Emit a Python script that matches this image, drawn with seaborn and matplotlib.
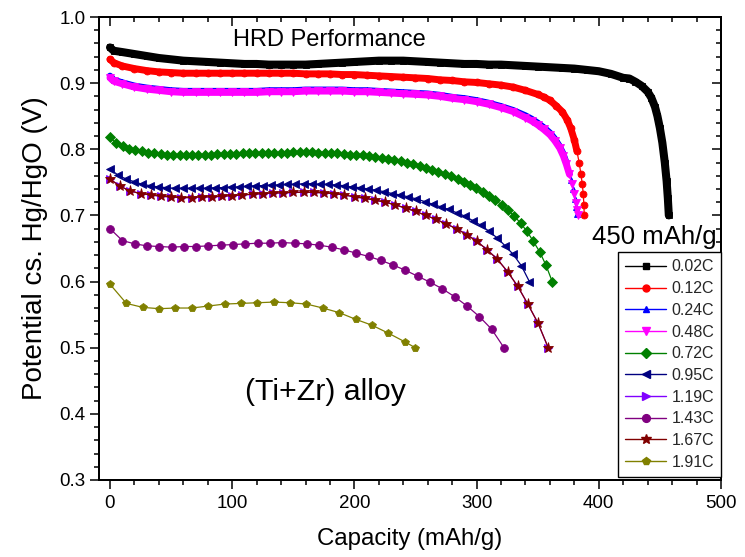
import matplotlib
matplotlib.use("Agg")
import matplotlib.pyplot as plt
import seaborn as sns
import pandas as pd
from matplotlib.lines import Line2D
from matplotlib.ticker import MultipleLocator, FormatStrFormatter

sns.set_theme(style="ticks")
plt.rcParams['font.family'] = ['Liberation Sans', 'DejaVu Sans']
plt.rcParams.update({
    "axes.linewidth": 1.4, "axes.edgecolor": "black",
    "xtick.color": "black", "ytick.color": "black",
    "xtick.labelcolor": "black", "ytick.labelcolor": "black",
    "xtick.major.pad": 4, "ytick.major.pad": 3,
    "xtick.major.size": 6.5, "ytick.major.size": 6.5,
    "xtick.minor.size": 3.5, "ytick.minor.size": 3.5,
    "xtick.major.width": 1.1, "ytick.major.width": 1.1,
    "xtick.minor.width": 1.1, "ytick.minor.width": 1.1,
})

# ---------------- data ----------------
rates = ["0.02C", "0.12C", "0.24C", "0.48C", "0.72C", "0.95C", "1.19C", "1.43C", "1.67C", "1.91C"]

cap_002 = [0, 3, 10, 20, 30, 40, 50, 60, 70, 80, 90, 100, 110, 120, 130, 140, 150, 160, 170, 180,
           190, 200, 210, 220, 230, 240, 250, 260, 270, 280, 290, 300, 310, 320, 330, 340, 350, 360,
           370, 380, 390, 400, 410, 420, 425, 430, 435, 440, 443, 446, 448, 450, 452, 454, 455.5,
           456.5, 457.3]
pot_002 = [0.954, 0.949, 0.947, 0.944, 0.941, 0.938, 0.936, 0.934, 0.933, 0.932, 0.931, 0.930,
           0.929, 0.929, 0.928, 0.928, 0.928, 0.928, 0.929, 0.930, 0.931, 0.932, 0.933, 0.934,
           0.934, 0.934, 0.933, 0.932, 0.931, 0.930, 0.929, 0.929, 0.928, 0.928, 0.927, 0.926,
           0.925, 0.924, 0.923, 0.922, 0.920, 0.918, 0.914, 0.908, 0.907, 0.902, 0.896, 0.887,
           0.878, 0.864, 0.850, 0.832, 0.810, 0.780, 0.752, 0.726, 0.700]

cap_012 = [0, 3, 10, 20, 30, 40, 50, 60, 70, 80, 90, 100, 110, 120, 130, 140, 150, 160, 170, 180,
           190, 200, 210, 220, 230, 240, 250, 260, 270, 280, 290, 300, 310, 320, 330, 340, 350,
           355, 360, 365, 370, 374, 377, 380, 382, 384, 385.4, 386.5, 387.3, 387.8, 388.1]
pot_012 = [0.936, 0.931, 0.926, 0.922, 0.919, 0.917, 0.916, 0.915, 0.915, 0.915, 0.915, 0.915,
           0.915, 0.915, 0.915, 0.915, 0.915, 0.914, 0.914, 0.914, 0.913, 0.913, 0.912, 0.911,
           0.910, 0.909, 0.908, 0.907, 0.905, 0.904, 0.902, 0.901, 0.899, 0.897, 0.894, 0.889,
           0.883, 0.879, 0.874, 0.866, 0.857, 0.845, 0.832, 0.814, 0.798, 0.779, 0.762, 0.747,
           0.732, 0.716, 0.700]

cap_024 = [0, 3, 10, 20, 30, 40, 50, 60, 70, 80, 90, 100, 110, 120, 130, 140, 150, 160, 170, 180,
           190, 200, 210, 220, 230, 240, 250, 260, 270, 280, 290, 300, 310, 320, 330, 340, 345,
           350, 355, 360, 364, 367.5, 370.5, 373, 375.5, 377.5, 379, 380.3, 381.2, 381.8]
pot_024 = [0.911, 0.905, 0.901, 0.896, 0.893, 0.891, 0.889, 0.888, 0.888, 0.888, 0.888, 0.888,
           0.888, 0.888, 0.889, 0.889, 0.889, 0.890, 0.890, 0.890, 0.890, 0.889, 0.889, 0.888,
           0.887, 0.886, 0.885, 0.884, 0.882, 0.879, 0.877, 0.874, 0.870, 0.865, 0.859, 0.851,
           0.846, 0.840, 0.833, 0.825, 0.816, 0.806, 0.795, 0.782, 0.767, 0.753, 0.740, 0.725,
           0.712, 0.702]

cap_048 = [0, 3, 10, 20, 30, 40, 50, 60, 70, 80, 90, 100, 110, 120, 130, 140, 150, 160, 170, 180,
           190, 200, 210, 220, 230, 240, 250, 260, 270, 280, 290, 300, 310, 320, 330, 340, 345,
           350, 355, 360, 364, 368, 371, 373.5, 376, 378, 380, 381.5, 382.5, 383.2]
pot_048 = [0.908, 0.903, 0.899, 0.894, 0.891, 0.889, 0.887, 0.886, 0.886, 0.886, 0.886, 0.886,
           0.886, 0.886, 0.887, 0.887, 0.887, 0.888, 0.888, 0.888, 0.888, 0.887, 0.887, 0.886,
           0.885, 0.884, 0.883, 0.882, 0.880, 0.877, 0.875, 0.872, 0.868, 0.863, 0.857, 0.848,
           0.843, 0.837, 0.830, 0.822, 0.813, 0.802, 0.790, 0.777, 0.762, 0.748, 0.733, 0.719,
           0.708, 0.700]

cap_072 = [0, 5.2, 10.3, 15.5, 20.7, 25.9, 31.0, 36.2, 41.4, 46.5, 51.7, 56.9, 62.0, 67.2, 72.4,
           77.6, 82.7, 87.9, 93.1, 98.2, 103.4, 108.6, 113.7, 118.9, 124.1, 129.3, 134.4, 139.6,
           144.8, 149.9, 155.1, 160.3, 165.4, 170.6, 175.8, 181.0, 186.1, 191.3, 196.5, 201.6,
           206.8, 212.0, 217.1, 222.3, 227.5, 232.7, 237.8, 243.0, 248.2, 253.3, 258.5, 263.7,
           268.8, 274.0, 279.2, 284.4, 289.5, 294.7, 299.9, 305.0, 310.2, 315.4, 320.5, 325.7,
           330.9, 336.1, 341.2, 346.4, 351.6, 356.7, 361.9]
pot_072 = [0.818, 0.809, 0.805, 0.801, 0.799, 0.797, 0.795, 0.794, 0.793, 0.792, 0.792, 0.792,
           0.792, 0.792, 0.792, 0.792, 0.792, 0.793, 0.793, 0.793, 0.793, 0.794, 0.794, 0.794,
           0.794, 0.795, 0.795, 0.795, 0.795, 0.796, 0.796, 0.796, 0.796, 0.795, 0.795, 0.794,
           0.794, 0.793, 0.792, 0.792, 0.791, 0.790, 0.789, 0.787, 0.786, 0.784, 0.782, 0.780,
           0.777, 0.775, 0.772, 0.769, 0.766, 0.762, 0.759, 0.755, 0.751, 0.746, 0.741, 0.736,
           0.730, 0.723, 0.716, 0.708, 0.699, 0.688, 0.676, 0.661, 0.645, 0.625, 0.600]

cap_095 = [0, 6.6, 13.2, 19.8, 26.4, 33.0, 39.6, 46.2, 52.8, 59.4, 66.0, 72.6, 79.2, 85.8, 92.4,
           99.0, 105.6, 112.2, 118.8, 125.4, 132.0, 138.6, 145.2, 151.8, 158.4, 165.0, 171.6,
           178.2, 184.8, 191.4, 198.0, 204.6, 211.2, 217.8, 224.4, 231.0, 237.6, 244.2, 250.8,
           257.4, 264.0, 270.6, 277.2, 283.8, 290.4, 297.0, 303.6, 310.2, 316.8, 323.4, 330.0,
           336.6, 343.2]
pot_095 = [0.770, 0.761, 0.755, 0.751, 0.747, 0.745, 0.743, 0.742, 0.741, 0.741, 0.741, 0.741,
           0.741, 0.742, 0.742, 0.743, 0.743, 0.744, 0.745, 0.745, 0.746, 0.746, 0.747, 0.747,
           0.748, 0.748, 0.747, 0.747, 0.746, 0.745, 0.743, 0.742, 0.740, 0.738, 0.736, 0.733,
           0.731, 0.728, 0.725, 0.721, 0.717, 0.713, 0.709, 0.704, 0.699, 0.692, 0.685, 0.676,
           0.666, 0.654, 0.641, 0.624, 0.600]

cap_119 = [0, 8.3, 16.7, 25.0, 33.4, 41.7, 50.0, 58.4, 66.7, 75.1, 83.4, 91.7, 100.1, 108.4, 116.8,
           125.1, 133.4, 141.8, 150.1, 158.5, 166.8, 175.1, 183.5, 191.8, 200.2, 208.5, 216.8,
           225.2, 233.5, 241.9, 250.2, 258.5, 266.9, 275.2, 283.6, 291.9, 300.2, 308.6, 316.9,
           325.3, 333.6, 341.9, 350.3, 358.6]
pot_119 = [0.755, 0.744, 0.737, 0.733, 0.731, 0.729, 0.728, 0.727, 0.727, 0.728, 0.728, 0.729,
           0.730, 0.731, 0.732, 0.733, 0.734, 0.734, 0.735, 0.735, 0.735, 0.734, 0.733, 0.731,
           0.728, 0.726, 0.723, 0.720, 0.716, 0.711, 0.706, 0.700, 0.694, 0.687, 0.680, 0.671,
           0.661, 0.648, 0.634, 0.615, 0.593, 0.566, 0.537, 0.500]

cap_143 = [0, 10.1, 20.2, 30.2, 40.3, 50.4, 60.5, 70.5, 80.6, 90.7, 100.8, 110.8, 120.9, 131.0,
           141.1, 151.1, 161.2, 171.3, 181.4, 191.4, 201.5, 211.6, 221.7, 231.7, 241.8, 251.9,
           262.0, 272.0, 282.1, 292.2, 302.3, 312.3, 322.4]
pot_143 = [0.680, 0.662, 0.657, 0.654, 0.653, 0.652, 0.653, 0.653, 0.654, 0.655, 0.656, 0.657,
           0.658, 0.658, 0.659, 0.658, 0.657, 0.655, 0.652, 0.648, 0.643, 0.638, 0.632, 0.625,
           0.617, 0.608, 0.599, 0.589, 0.577, 0.563, 0.547, 0.528, 0.500]

cap_167 = [0, 8.3, 16.7, 25.0, 33.4, 41.7, 50.0, 58.4, 66.7, 75.1, 83.4, 91.7, 100.1, 108.4, 116.8,
           125.1, 133.4, 141.8, 150.1, 158.5, 166.8, 175.1, 183.5, 191.8, 200.2, 208.5, 216.8,
           225.2, 233.5, 241.9, 250.2, 258.5, 266.9, 275.2, 283.6, 291.9, 300.2, 308.6, 316.9,
           325.3, 333.6, 341.9, 350.3, 358.6]
pot_167 = [0.755, 0.744, 0.737, 0.733, 0.731, 0.729, 0.728, 0.727, 0.727, 0.728, 0.728, 0.729,
           0.730, 0.731, 0.732, 0.733, 0.734, 0.734, 0.735, 0.735, 0.735, 0.734, 0.733, 0.731,
           0.728, 0.726, 0.723, 0.720, 0.716, 0.711, 0.706, 0.700, 0.694, 0.687, 0.680, 0.671,
           0.661, 0.648, 0.634, 0.615, 0.593, 0.566, 0.537, 0.500]

cap_191 = [0, 13.4, 26.8, 40.2, 53.6, 67.0, 80.4, 93.8, 107.2, 120.6, 134.0, 147.4, 160.8, 174.2,
           187.6, 201.0, 214.4, 227.8, 241.2, 249.8]
pot_191 = [0.596, 0.567, 0.561, 0.559, 0.560, 0.560, 0.563, 0.566, 0.567, 0.568, 0.569, 0.568,
           0.566, 0.560, 0.553, 0.543, 0.534, 0.522, 0.509, 0.500]

caps = [cap_002, cap_012, cap_024, cap_048, cap_072, cap_095, cap_119, cap_143, cap_167, cap_191]
pots = [pot_002, pot_012, pot_024, pot_048, pot_072, pot_095, pot_119, pot_143, pot_167, pot_191]

# ---------------- styles ----------------
colors = ["#000000", "#ff0000", "#0000ff", "#ff00ff", "#008000", "#000080", "#8000ff",
          "#800080", "#800000", "#808000"]
markers = ["s", "o", "^", "v", "D", "<", ">", "o", "*", "p"]
msizes = [4.5, 5.0, 5.0, 5.5, 4.6, 6.2, 6.2, 5.6, 8.0, 5.8]
# thick "band" formed by the densely packed markers of the slow-rate curves
band_lw = [5.8, 5.0, 4.6, 5.0, 0, 0, 0, 0, 0, 0]
band_to = [460, 382, 373, 376, 0, 0, 0, 0, 0, 0]

XLIM = (-9, 500)
YLIM = (0.3, 1.0)
RECT = [99 / 745, 1 - 480 / 557, 622 / 745, 463 / 557]

fig = plt.figure(figsize=(7.45, 5.57), dpi=100)

# ---- mirror axes (created first, drawn underneath): inward top/right ticks ----
ma = fig.add_axes(RECT)
ma.set_xlim(*XLIM)
ma.set_ylim(*YLIM)
ma.xaxis.set_major_locator(MultipleLocator(100))
ma.xaxis.set_minor_locator(MultipleLocator(20))
ma.yaxis.set_major_locator(MultipleLocator(0.1))
ma.yaxis.set_minor_locator(MultipleLocator(0.02))
ma.tick_params(which="both", direction="in", bottom=False, left=False, top=True, right=True,
               labelbottom=False, labelleft=False, labeltop=False, labelright=False)
ma.tick_params(which="major", length=6.5)
ma.tick_params(which="minor", length=3.5)

# ---- main axes: data, labels, outward bottom/left ticks ----
ax = fig.add_axes(RECT)
ax.patch.set_visible(False)

for i, r in enumerate(rates):
    df = pd.DataFrame({"Capacity": caps[i], "Potential": pots[i]})
    if band_lw[i] > 0:
        sub = df[df["Capacity"] <= band_to[i]]
        sns.lineplot(data=sub, x="Capacity", y="Potential", color=colors[i], lw=band_lw[i],
                     estimator=None, sort=False, legend=False, ax=ax,
                     solid_capstyle="round", solid_joinstyle="round")
    sns.lineplot(data=df, x="Capacity", y="Potential", color=colors[i], lw=0.9,
                 marker=markers[i], markersize=msizes[i], markeredgecolor=colors[i],
                 markeredgewidth=0.6, estimator=None, sort=False, legend=False, ax=ax)

ax.set_xlim(*XLIM)
ax.set_ylim(*YLIM)
ax.xaxis.set_major_locator(MultipleLocator(100))
ax.xaxis.set_minor_locator(MultipleLocator(20))
ax.yaxis.set_major_locator(MultipleLocator(0.1))
ax.yaxis.set_minor_locator(MultipleLocator(0.02))
ax.yaxis.set_major_formatter(FormatStrFormatter("%.1f"))
ax.set_xlabel("Capacity (mAh/g)", fontsize=17.3, color="black", labelpad=12)
ax.set_ylabel("Potential cs. Hg/HgO (V)", fontsize=20, color="black", labelpad=8)

ax.text(100.5, 0.965, "HRD Performance", fontsize=17, ha="left", va="center", color="black")
ax.text(394.5, 0.667, "450 mAh/g", fontsize=18.5, ha="left", va="center", color="black")
ax.text(110.5, 0.433, "(Ti+Zr) alloy", fontsize=21.8, ha="left", va="center", color="black")

handles = [Line2D([], [], color=colors[i], lw=1.0, marker=markers[i],
                  markersize=min(msizes[i], 6) if markers[i] != "*" else 7,
                  markeredgecolor=colors[i]) for i in range(len(rates))]
leg = ax.legend(handles, rates, loc="upper left", bbox_to_anchor=(0.834, 0.492),
                borderaxespad=0, fontsize=11.5, frameon=True, fancybox=False,
                edgecolor="black", framealpha=1, handlelength=2.6, handletextpad=0.3,
                labelspacing=0.42, borderpad=0.45)
leg.get_frame().set_linewidth(1.0)

ax.tick_params(which="both", direction="out", bottom=True, left=True, top=False, right=False,
               colors="black", width=1.1, labelsize=13.5)
ax.tick_params(which="major", length=6.5)
ax.tick_params(which="minor", length=3.5)

fig.savefig("out.png", dpi=100)
